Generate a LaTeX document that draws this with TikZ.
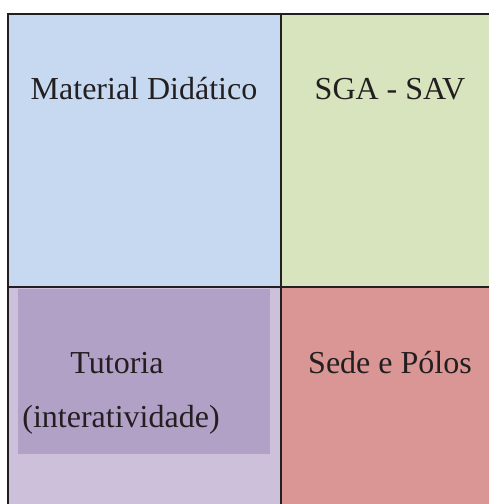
\documentclass[tikz,border=0pt]{standalone}
\usepackage{fontspec}
\setmainfont{Liberation Serif}
\usepackage{tikz}
\definecolor{CellBlue}{HTML}{C6D9F1}
\definecolor{CellGreen}{HTML}{D7E4BD}
\definecolor{CellLilac}{HTML}{CCC0DA}
\definecolor{CellPurple}{HTML}{B2A1C7}
\definecolor{CellRed}{HTML}{D99694}
\definecolor{TextDark}{HTML}{231F20}
\tikzstyle{grid} = [line width=2pt, color=TextDark]
\tikzstyle{cell} = [anchor=base, inner sep=0pt, text=TextDark, font=\fontsize{32}{38}\selectfont]

\begin{document}
\begin{tikzpicture}[x=1pt,y=-1pt]
	\useasboundingbox (0,0) rectangle (489,504);
	% cell backgrounds
	\fill[CellBlue] (8,14) rectangle (281,287);
	\fill[CellGreen] (281,14) rectangle (489,287);
	\fill[CellLilac] (8,287) rectangle (281,504);
	\fill[CellRed] (281,287) rectangle (489,504);
	\fill[CellPurple] (18,289) rectangle (270,454);
	% grid lines
	\draw[grid] (8,504) -- (8,14) -- (489,14);
	\draw[grid] (281,14) -- (281,504);
	\draw[grid] (8,287) -- (489,287);
	% labels
	\node[cell] (material) at (144,99) {Material Didático};
	\node[cell] (sga) at (390,99) {SGA - SAV};
	\node[cell] (tutoria) at (117,373) {Tutoria};
	\node[cell] (interat) at (121,427) {(interatividade)};
	\node[cell] (sede) at (390,373) {Sede e Pólos};
\end{tikzpicture}
\end{document}
